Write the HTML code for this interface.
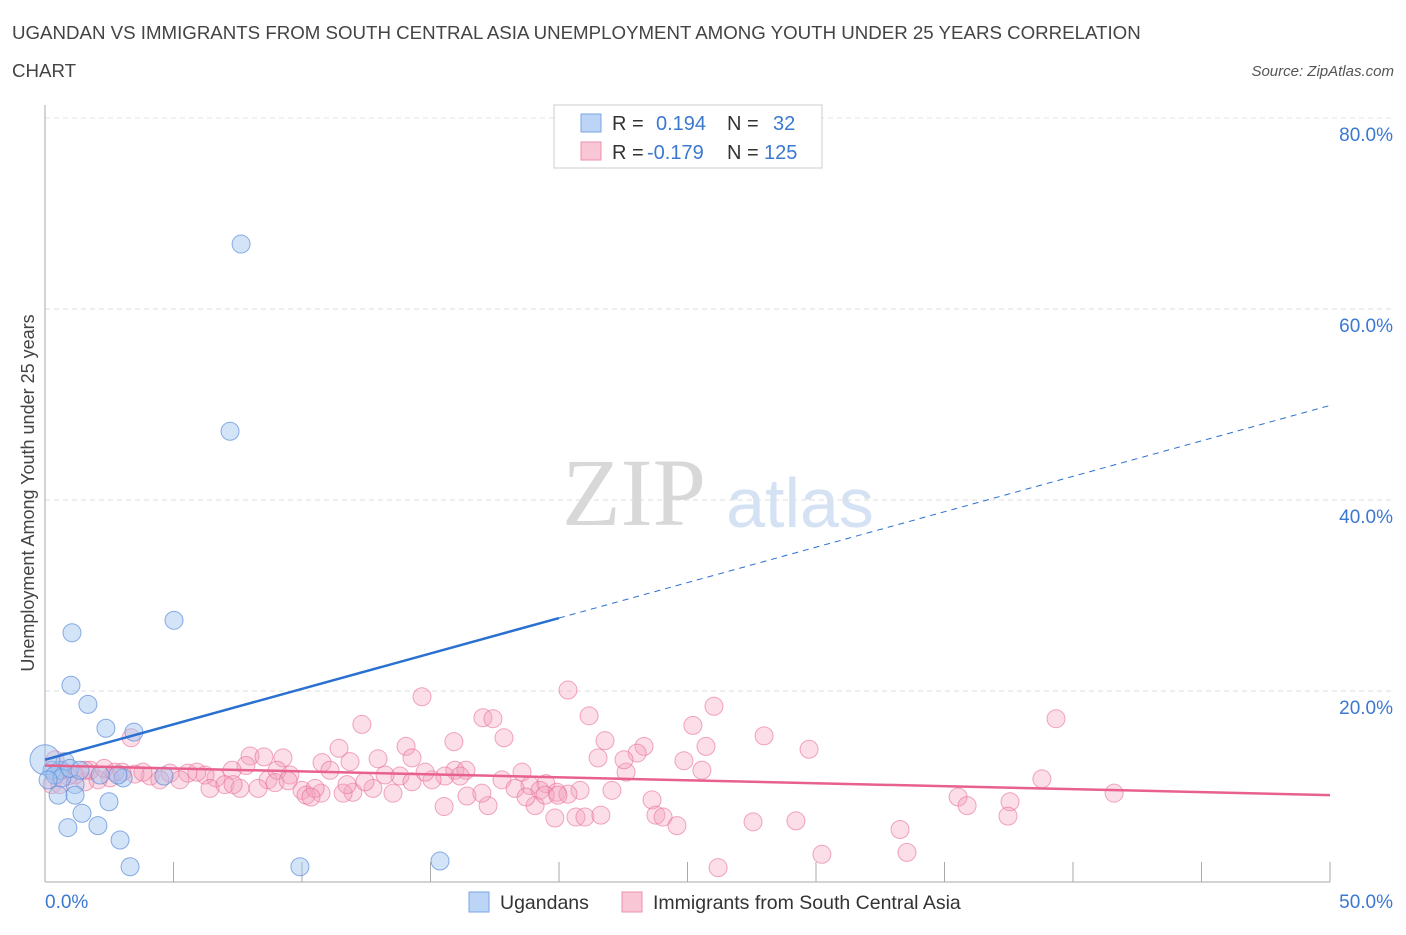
<!DOCTYPE html>
<html><head><meta charset="utf-8"><style>
body{margin:0;background:#fff;font-family:"Liberation Sans",sans-serif;}
svg text{font-family:"Liberation Sans",sans-serif;}
</style></head><body>
<svg id="c" width="1406" height="930">
<text x="12" y="39" font-size="18.7" fill="#444">UGANDAN VS IMMIGRANTS FROM SOUTH CENTRAL ASIA UNEMPLOYMENT AMONG YOUTH UNDER 25 YEARS CORRELATION</text>
<text x="12" y="77" font-size="18.7" fill="#444">CHART</text>
<text x="1394" y="76" font-size="15" fill="#555" font-style="italic" text-anchor="end">Source: ZipAtlas.com</text>
<text x="634" y="525" font-size="96" fill="#d8d8d8" text-anchor="middle" style="font-family:'Liberation Serif',serif">ZIP</text>
<text x="800" y="527" font-size="70" fill="#d4e2f4" text-anchor="middle">atlas</text>
<g id="grid"></g><g id="axes"></g><g id="pts"></g><g id="lines"></g>
<text transform="translate(34,493) rotate(-90)" font-size="18" fill="#444" text-anchor="middle">Unemployment Among Youth under 25 years</text>
<g>
<rect x="554" y="105" width="268" height="63" fill="#fff" stroke="#ccc"/>
<rect x="581" y="114" width="20" height="18" fill="#bcd4f6" stroke="#7aa6e6"/>
<rect x="581" y="142" width="20" height="18" fill="#f9c6d6" stroke="#ec90ae"/>
<text x="612" y="130" font-size="20" fill="#333">R = <tspan x="656" fill="#3b78d0">0.194</tspan><tspan x="727" fill="#333">N =</tspan><tspan x="773" fill="#3b78d0">32</tspan></text>
<text x="612" y="159" font-size="20" fill="#333">R = <tspan x="647" fill="#3b78d0">-0.179</tspan><tspan x="727" fill="#333">N =</tspan><tspan x="764" fill="#3b78d0">125</tspan></text>
</g>
<g>
<rect x="469" y="892" width="20" height="20" fill="#bcd4f6" stroke="#7aa6e6"/>
<text x="500" y="909" font-size="19.5" fill="#333">Ugandans</text>
<rect x="622" y="892" width="20" height="20" fill="#f9c6d6" stroke="#ec90ae"/>
<text x="653" y="909" font-size="19.5" fill="#333">Immigrants from South Central Asia</text>
</g>
</svg>
<script>
const yTicks=[20,40,60,80];
const xTickLabels=["0.0%","50.0%"];
const blueX=[7.63,7.2,1.05,5.02,1.01,1.67,2.37,3.46,0.27,0.58,0.78,1.17,0.51,1.17,2.49,0.89,1.44,2.06,2.92,3.31,9.92,15.37,4.63,3.04,0,0.39,0.66,0.12,0.97,2.14,1.36,2.84];
const blueY=[66.8,47.2,26.1,27.4,20.6,18.6,16.1,15.7,11.7,11.7,12.6,10.2,9.1,9.1,8.4,5.7,7.2,5.9,4.4,1.6,1.6,2.2,11.1,10.9,12.8,11.2,10.9,10.7,11.9,11.2,11.7,11.2];
const pinkX=[20.35,14.67,26.03,21.17,17.04,17.43,39.34,25.21,12.33,3.35,17.86,27.98,21.79,14.05,11.44,25.72,23.31,23.04,29.73,7.98,8.52,9.26,21.52,15.91,12.96,14.28,11.87,10.78,24.86,15.95,18.56,22.61,13.81,15.56,16.38,17.78,19.49,20.82,18.87,19.92,19.26,22.06,38.79,41.6,35.53,37.55,35.88,23.62,15.53,17.24,19.07,20.66,21.01,21.63,23.77,24.05,24.59,27.55,29.22,33.27,37.47,19.84,30.23,33.54,26.19,20.35,16.42,17.0,11.98,12.76,13.54,14.28,15.06,10.0,10.16,10.74,11.6,10.51,8.68,9.53,9.03,7.82,7.28,6.65,6.23,5.56,4.86,4.09,3.5,2.53,2.06,1.56,1.17,0.66,0.39,0.27,0.89,1.75,2.3,3.0,3.81,4.47,5.25,5.91,6.42,7.0,7.59,8.29,8.95,9.46,10.35,11.09,11.75,12.45,13.23,14.79,16.15,18.29,18.72,19.46,19.96,22.53,25.56,7.32,2.72,1.56,0.58];
const pinkY=[20.1,19.4,18.4,17.4,17.2,17.1,17.1,16.4,16.5,15.1,15.1,15.3,14.8,14.2,14.0,14.2,14.2,13.5,13.9,13.2,13.1,13.0,13.0,14.7,12.9,13.0,12.6,12.5,12.7,11.7,11.5,11.5,11.1,11.1,11.7,10.7,10.3,9.6,10.1,9.4,9.6,9.6,10.8,9.3,8.9,8.4,8.0,8.6,7.9,8.0,8.0,6.8,6.8,7.0,7.0,6.8,5.9,6.3,6.4,5.5,6.9,6.7,2.9,3.1,1.5,9.2,9.0,9.3,9.4,9.8,9.3,10.5,10.7,9.6,9.1,9.3,9.3,9.8,10.7,11.2,11.7,12.2,11.7,10.9,11.2,11.4,11.4,11.1,11.3,10.9,10.7,10.5,11.2,11.7,12.8,10.2,11.1,11.7,11.9,11.5,11.5,10.7,10.7,11.5,9.8,10.2,9.8,9.8,10.4,10.6,8.9,11.7,10.2,10.5,11.2,11.5,11.1,9.8,8.9,9.1,9.1,12.8,11.7,10.2,11.5,11.7,10.2];
const blueTrend=[12.8,49.9];
const pinkTrend=[12.2,9.1];
const NS='http://www.w3.org/2000/svg';
const sx=v=>45+v*25.7, sy=v=>882-v*9.55;
function mk(p,t,a){const e=document.createElementNS(NS,t);for(const k in a)e.setAttribute(k,a[k]);document.getElementById(p).appendChild(e);return e;}
yTicks.forEach(t=>{
 const l=mk('grid','line',{x1:45,x2:1392,y1:sy(t),y2:sy(t),stroke:'#ddd','stroke-dasharray':'5,4'});
 
 
 const tx=mk('grid','text',{x:1393,y:sy(t)+23,'font-size':19,fill:'#3b78d0','text-anchor':'end'});tx.textContent=t.toFixed(1)+'%';
 
 
});
mk('grid','line',{x1:45,x2:1392,y1:118,y2:118,stroke:'#e4e4e4','stroke-dasharray':'5,4'});
mk('axes','line',{x1:45,x2:45,y1:105,y2:882,stroke:'#aaa'});
mk('axes','line',{x1:45,x2:1330,y1:882,y2:882,stroke:'#aaa'});
for(let i=0;i<=10;i++){const x=sx(i*5);mk('axes','line',{x1:x,x2:x,y1:862,y2:882,stroke:'#aaa'});}
[0,50].forEach((v,i)=>{const t=mk('axes','text',{x:i?1393:45,y:908,'font-size':19,fill:'#3b78d0','text-anchor':i?'end':'start'});t.textContent=xTickLabels[i];
 
 });
pinkX.forEach((x,i)=>{const c=mk('pts','circle',{cx:sx(x),cy:sy(pinkY[i]),r:9,fill:'rgba(244,160,190,0.35)',stroke:'rgba(232,110,150,0.6)','stroke-width':1});
 
 });
blueX.forEach((x,i)=>{const c=mk('pts','circle',{cx:sx(x),cy:sy(blueY[i]),r:(x===0?15:9),fill:'rgba(160,196,240,0.45)',stroke:'rgba(90,140,215,0.7)','stroke-width':1});
 
 });
const by=x=>blueTrend[0]+(blueTrend[1]-blueTrend[0])*x/50;
const b1=mk('lines','line',{x1:sx(0),y1:sy(by(0)),x2:sx(20),y2:sy(by(20)),stroke:'#2a70d0','stroke-width':2.5});


const b2=mk('lines','line',{x1:sx(20),y1:sy(by(20)),x2:sx(50),y2:sy(by(50)),stroke:'#2a70d0','stroke-width':1,'stroke-dasharray':'6,5'});


const p1=mk('lines','line',{x1:sx(0),y1:sy(pinkTrend[0]),x2:sx(50),y2:sy(pinkTrend[1]),stroke:'#e8608e','stroke-width':2.5});


</script>
</body></html>
